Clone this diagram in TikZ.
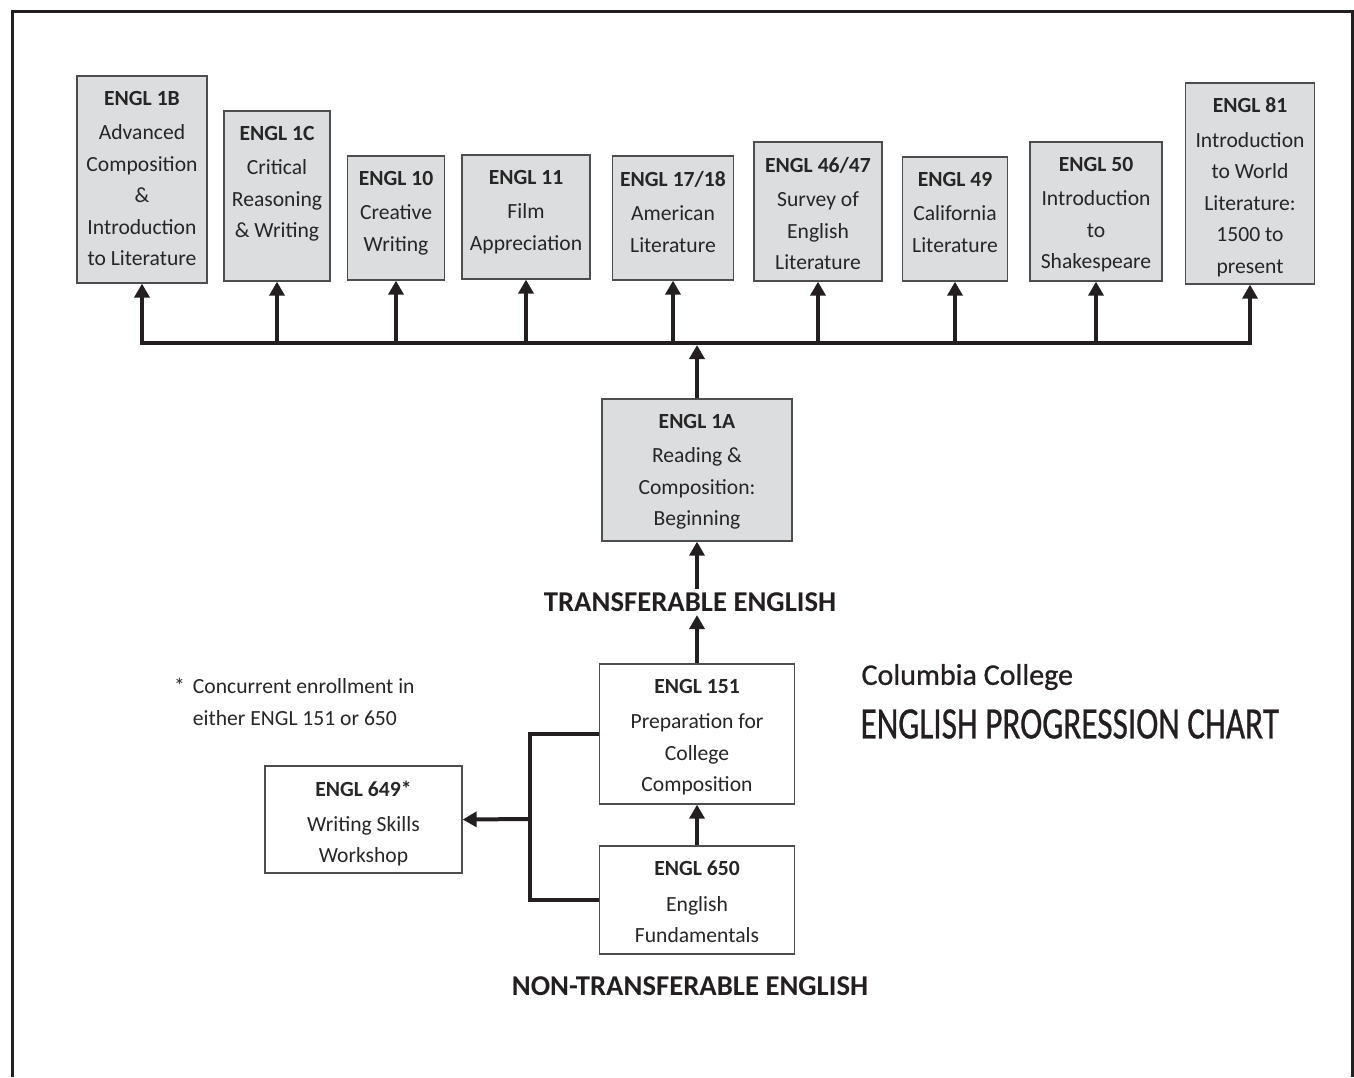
\documentclass[tikz,border=0pt]{standalone}
\usepackage{fontspec}
\setmainfont{Carlito}
\newfontfamily\titlefont[FakeStretch=0.74, FakeBold=0.6]{Carlito}
\newfontfamily\collegefont[FakeBold=0.8]{Carlito}
\usetikzlibrary{arrows.meta, positioning}

\definecolor{boxgray}{HTML}{DCDDDE}
\definecolor{inkblack}{HTML}{231F20}
\definecolor{edgegray}{HTML}{4D4D4F}
\definecolor{textgray}{HTML}{262626}

\tikzset{
    course/.style={draw=edgegray, line width=1.3pt, fill=boxgray, inner sep=0pt},
    plainbox/.style={course, fill=white},
    coursetext/.style={align=center, inner sep=0pt, text=textgray, font=\fontsize{21.6}{31.5}\selectfont},
    link/.style={draw=inkblack, line width=4pt},
    uparrow/.style={link, -{Triangle[width=15pt,length=14pt]}},
    level/.style={font=\bfseries\fontsize{28.7}{32}\selectfont, text=inkblack},
}

\begin{document}
\begin{tikzpicture}[x=1pt, y=-1pt]
    \useasboundingbox (0,0) rectangle (1354,1077);
    \draw[line width=3pt, draw=inkblack] (12,1077) -- (12,11) -- (1352,11) -- (1352,1077);
    \coordinate (bus) at (700,343);

    % upper courses
    \foreach \n/\cx/\yt/\yb/\bw/\ttl/\txt in {
        1B/142/76/283/130/{ENGL 1B}/{Advanced\\Composition\\\&\\Introduction\\to Literature},
        1C/277/111/281/106/{ENGL 1C}/{Critical\\Reasoning\\\& Writing},
        10/396/156/280/97/{ENGL 10}/{Creative\\Writing},
        11/526/155/279/128/{ENGL 11}/{Film\\Appreciation},
        17/673/156/280/121/{ENGL 17/18}/{American\\Literature},
        46/818/142/281/128/{ENGL 46/47}/{Survey of\\English\\Literature},
        49/955/157/281/105/{ENGL 49}/{California\\Literature},
        50/1096/142/281/132/{ENGL 50}/{Introduction\\to\\Shakespeare},
        81/1250/83/284/129/{ENGL 81}/{Introduction\\to World\\Literature:\\1500 to\\present}%
    } {
        \node[course, minimum width=\bw, minimum height=\yb-\yt] (c\n) at (\cx, {(\yt+\yb)/2}) {};
        \node[coursetext, below=15.5pt of c\n.north] (t\n) {\textbf{\ttl}\\[3pt]\txt};
        \draw[uparrow] (c\n.south |- bus) -- (c\n.south);
    }
    \draw[link, line cap=rect] (c1B.south |- bus) -- (c81.south |- bus);

    % ENGL 1A
    \node[course, minimum width=190, minimum height=142] (c1A) at (697,470) {};
    \node[coursetext, below=15.5pt of c1A.north] (t1A) {\textbf{ENGL 1A}\\[3pt]Reading \&\\Composition:\\Beginning};
    \draw[uparrow, shorten >=2pt] (c1A.north) -- (c1A.north |- bus);

    \node[level] (trans) at (690,602) {TRANSFERABLE ENGLISH};
    \draw[uparrow] (c1A.south |- trans.north) -- (c1A.south);

    % lower courses
    \node[plainbox, minimum width=195, minimum height=140] (c151) at (697,734) {};
    \node[coursetext, below=15.5pt of c151.north] (t151) {\textbf{ENGL 151}\\[4pt]Preparation for\\College\\Composition};
    \node[plainbox, minimum width=195, minimum height=108] (c650) at (697,900) {};
    \node[coursetext, below=15.5pt of c650.north] (t650) {\textbf{ENGL 650}\\[4pt]English\\Fundamentals};
    \node[plainbox, minimum width=197, minimum height=107] (c649) at (363.5,819.5) {};
    \node[coursetext, below=15.5pt of c649.north] (t649) {\textbf{ENGL 649*}\\[3pt]Writing Skills\\Workshop};

    \draw[uparrow] (c151.north) -- (c151.north |- trans.south);
    \draw[uparrow] (c650.north) -- (c650.north |- c151.south);

    \coordinate (fork) at (530,819);
    \draw[link] (c151.west) -| (fork) |- (c650.west);
    \draw[uparrow] (fork) -- (c649.east);

    \node[level] (nontrans) at (690,986) {NON-TRANSFERABLE ENGLISH};

    % note and title
    \node[coursetext, align=left, anchor=west, font=\fontsize{21.6}{32}\selectfont] (note) at (174,702)
        {*\hspace{8pt}Concurrent enrollment in\\\hphantom{*}\hspace{8pt}either ENGL 151 or 650};
    \node[anchor=west, text=inkblack, font=\collegefont\fontsize{30}{32}\selectfont] (college) at (858,677) {Columbia College};
    \node[anchor=west, text=inkblack, font=\titlefont\fontsize{45}{50}\selectfont] (chart) at (857,724) {ENGLISH PROGRESSION CHART};
\end{tikzpicture}
\end{document}
